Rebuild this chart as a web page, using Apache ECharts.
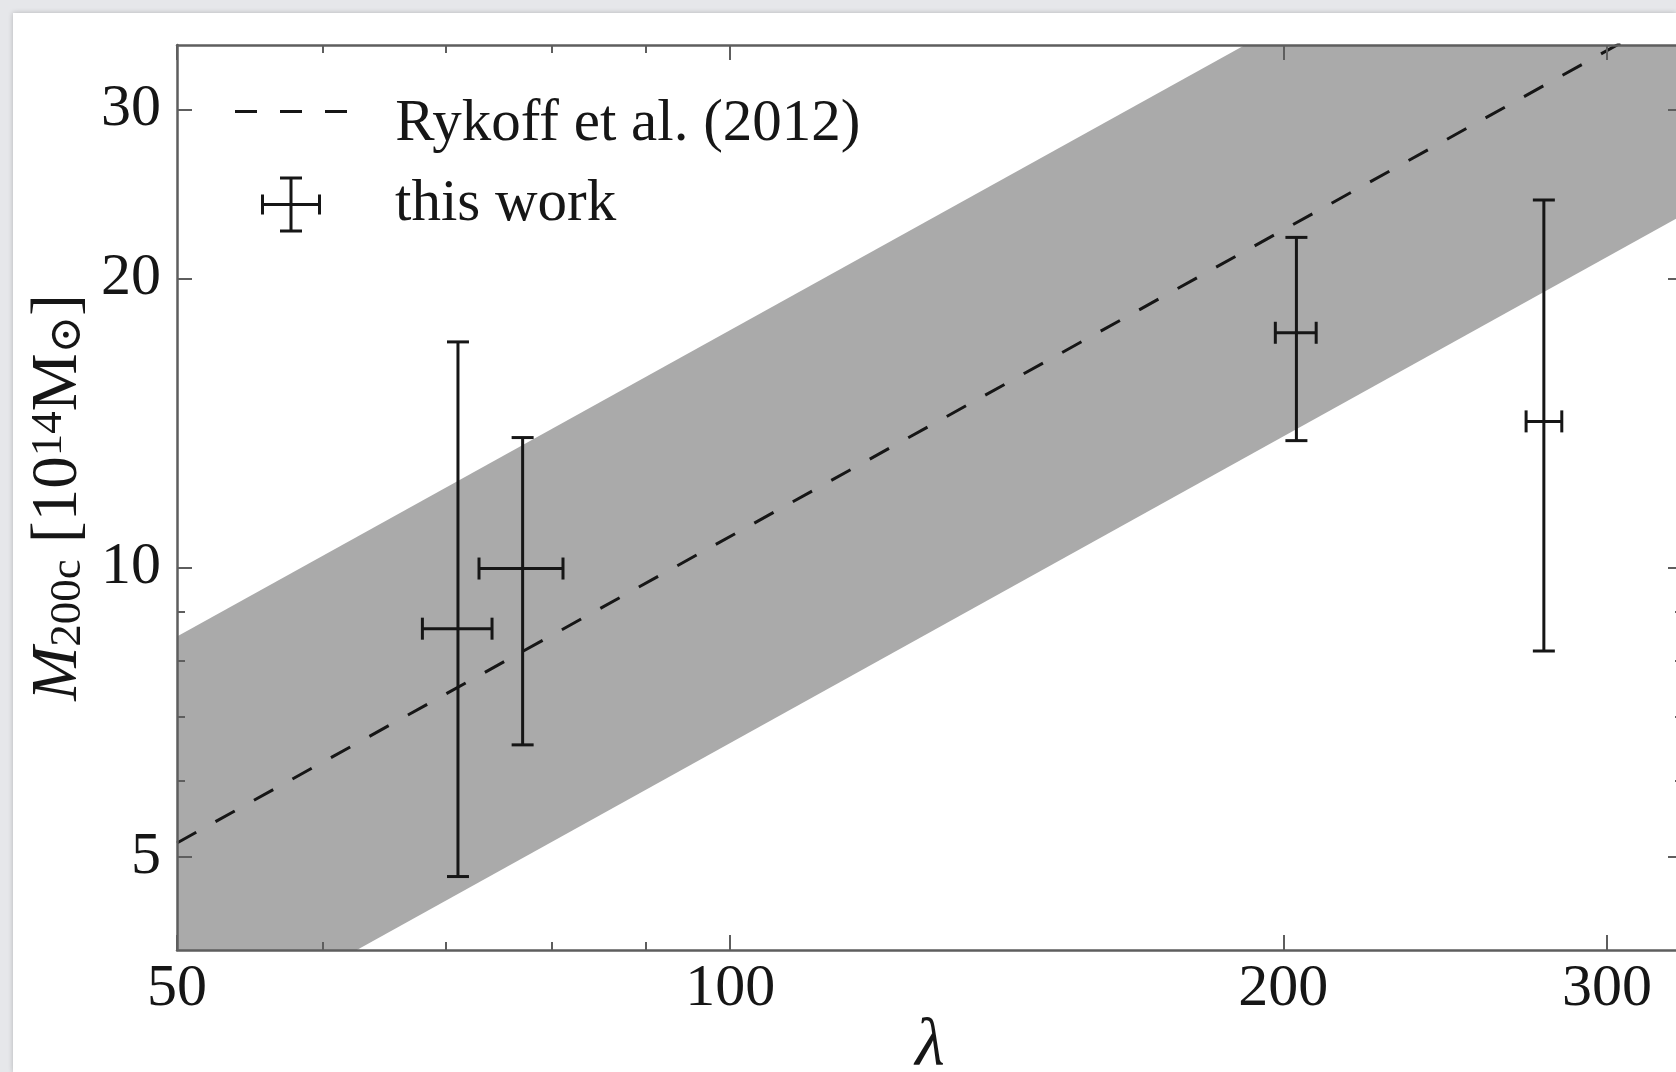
<!DOCTYPE html>
<html>
<head>
<meta charset="utf-8">
<script src="https://cdn.jsdelivr.net/npm/echarts@6/dist/echarts.min.js"></script>
<style>
  html, body { margin: 0; padding: 0; width: 1676px; height: 1072px; overflow: hidden; background: #e6e7ea; }
  #chart { position: absolute; left: 13px; top: 13px; width: 1663px; height: 1059px; background: #ffffff;
           box-shadow: 0 0 5px rgba(0,0,0,0.22); }
</style>
</head>
<body>
<div id="chart"></div>
<script>
// Richness λ vs. cluster mass M200c (10^14 solar masses)

// Stacked weak-lensing measurements ("this work")
const pointLambda = [71.1, 77.1, 203.3, 277.2];
const lambdaLow   = [68.0, 73.0, 198.0, 271.1];
const lambdaHigh  = [74.2, 81.1, 208.4, 283.5];
const pointMass   = [8.64, 9.98, 17.56, 14.20];
const massLow     = [4.77, 6.54, 13.56, 8.19];
const massHigh    = [17.18, 13.66, 22.07, 24.14];

// Rykoff et al. (2012) mass–richness relation and its scatter band
const rykoffLambda = [50, 330];
const rykoffMass   = [5.17, 38.2];
const bandLambda   = [50, 330];
const bandUpper    = [8.48, 62.6];
const bandLower    = [3.15, 23.3];

// Axis ticks
const xMajorTicks = [50, 100, 200, 300];
const xMinorTicks = [60, 70, 80, 90];
const yMajorTicks = [5, 10, 20, 30];
const yMinorTicks = [6, 7, 8, 9];

const SERIF = '"Liberation Serif", "DejaVu Serif", serif';
const AXIS_COLOR = '#5e5e5e';
const INK = '#161616';

const chart = echarts.init(document.getElementById('chart'));

function xAx(position, ticks, len, withLine, withLabels) {
  return {
    type: 'log', logBase: 10, min: 50, max: 330, position: position, z: 10,
    axisLine: { show: withLine, lineStyle: { color: AXIS_COLOR, width: 2.5 } },
    axisTick: { show: true, inside: true, length: len, customValues: ticks,
                lineStyle: { color: AXIS_COLOR, width: 2 } },
    axisLabel: { show: withLabels, customValues: ticks, margin: 9,
                 fontFamily: SERIF, fontSize: 60, color: INK },
    splitLine: { show: false }, minorTick: { show: false }, minorSplitLine: { show: false }
  };
}
function yAx(position, ticks, len, withLine, withLabels) {
  return {
    type: 'log', logBase: 10, min: 4, max: 35, position: position, z: 10,
    axisLine: { show: withLine, lineStyle: { color: AXIS_COLOR, width: 2.5 } },
    axisTick: { show: true, inside: true, length: len, customValues: ticks,
                lineStyle: { color: AXIS_COLOR, width: 2 } },
    axisLabel: { show: withLabels, customValues: ticks, margin: 16,
                 fontFamily: SERIF, fontSize: 60, color: INK },
    splitLine: { show: false }, minorTick: { show: false }, minorSplitLine: { show: false }
  };
}

const xBottom = xAx('bottom', xMajorTicks, 15, true, true);
xBottom.name = 'λ';
xBottom.nameLocation = 'middle';
xBottom.nameGap = 63;
xBottom.nameMoveOverlap = false;
xBottom.nameTextStyle = { fontFamily: SERIF, fontStyle: 'italic', fontSize: 68, color: INK };

const yLeft = yAx('left', yMajorTicks, 15, true, true);
yLeft.name = '{i|M}{sub|200c}{n| [10}{sup|14}{n|M}{sub|⊙}{n|]}';
yLeft.nameLocation = 'middle';
yLeft.nameRotate = 90;
yLeft.nameGap = 86;
yLeft.nameMoveOverlap = false;
yLeft.nameTextStyle = {
  color: INK,
  rich: {
    i:   { fontFamily: SERIF, fontStyle: 'italic', fontSize: 65, lineHeight: 64, color: INK },
    n:   { fontFamily: SERIF, fontSize: 65, lineHeight: 64, color: INK },
    sub: { fontFamily: SERIF, fontSize: 45, lineHeight: 26, verticalAlign: 'bottom', color: INK },
    sup: { fontFamily: SERIF, fontSize: 45, lineHeight: 26, verticalAlign: 'top', color: INK }
  }
};

const errorData = pointLambda.map((l, i) =>
  [l, pointMass[i], lambdaLow[i], lambdaHigh[i], massLow[i], massHigh[i]]);
const bandData = bandLambda.map((l, i) => [l, bandLower[i], bandUpper[i]]);
const rykoffData = rykoffLambda.map((l, i) => [l, rykoffMass[i]]);

const DASH_ICON = 'path://M0,0h22v3h-22z M45,0h22v3h-22z M90,0h22v3h-22z';
const ERR_ICON = 'path://M0,26.5h60v3h-60z M28.5,0h3v56h-3z M0,18h3v20h-3z M57,18h3v20h-3z M19,0h22v3h-22z M19,53h22v3h-22z';

const legendText = {
  t:   { fontFamily: SERIF, fontSize: 59, lineHeight: 59, color: INK, verticalAlign: 'bottom' },
  pad: { fontSize: 1, lineHeight: 85, color: 'transparent' }
};

chart.setOption({
  animation: false,
  backgroundColor: '#ffffff',
  grid: { left: 164, top: 32, width: 1506, height: 905, containLabel: false, outerBoundsMode: 'none' },
  xAxis: [
    xBottom,
    xAx('top', xMajorTicks, 15, true, false),
    xAx('bottom', xMinorTicks, 8, false, false),
    xAx('top', xMinorTicks, 8, false, false)
  ],
  yAxis: [
    yLeft,
    yAx('right', yMajorTicks, 15, true, false),
    yAx('left', yMinorTicks, 8, false, false),
    yAx('right', yMinorTicks, 8, false, false)
  ],
  legend: [
    {
      left: 217, top: 77, itemWidth: 112, itemHeight: 56,
      selectedMode: false, symbolKeepAspect: true,
      formatter: function (name) { return '{pad| }{t|' + name + '}'; },
      textStyle: { padding: [0, 0, 0, 43], rich: legendText },
      data: [{ name: 'Rykoff et al. (2012)', icon: DASH_ICON }]
    },
    {
      left: 243, top: 157, itemWidth: 112, itemHeight: 56,
      selectedMode: false, symbolKeepAspect: true,
      textStyle: { fontFamily: SERIF, fontSize: 59, color: INK, padding: [0, 0, 0, 43] },
      data: [{ name: 'this work', icon: ERR_ICON }]
    }
  ],
  series: [
    {
      name: 'band', type: 'custom', clip: true, z: 1, silent: true,
      data: bandData,
      encode: { x: 0, y: [1, 2] },
      renderItem: function (params, api) {
        if (params.dataIndex !== 0) return null;
        const pts = [];
        for (let i = 0; i < bandLambda.length; i++) pts.push(api.coord([bandLambda[i], bandUpper[i]]));
        for (let i = bandLambda.length - 1; i >= 0; i--) pts.push(api.coord([bandLambda[i], bandLower[i]]));
        return { type: 'polygon', shape: { points: pts }, style: { fill: '#aaaaaa' } };
      }
    },
    {
      name: 'Rykoff et al. (2012)', type: 'line', z: 2, symbol: 'none', clip: true,
      data: rykoffData,
      itemStyle: { color: INK },
      lineStyle: { color: INK, width: 3, type: [22, 22] }
    },
    {
      name: 'this work', type: 'custom', z: 3, clip: true,
      itemStyle: { color: INK },
      data: errorData,
      encode: { x: [0, 2, 3], y: [1, 4, 5] },
      renderItem: function (params, api) {
        const c = api.coord([api.value(0), api.value(1)]);
        const xl = api.coord([api.value(2), api.value(1)])[0];
        const xh = api.coord([api.value(3), api.value(1)])[0];
        const yl = api.coord([api.value(0), api.value(4)])[1];
        const yh = api.coord([api.value(0), api.value(5)])[1];
        const cap = 11;
        const st = { stroke: INK, lineWidth: 3 };
        const seg = (x1, y1, x2, y2) => ({ type: 'line', shape: { x1, y1, x2, y2 }, style: st });
        return {
          type: 'group',
          children: [
            seg(c[0], yl, c[0], yh),
            seg(xl, c[1], xh, c[1]),
            seg(c[0] - cap, yl, c[0] + cap, yl),
            seg(c[0] - cap, yh, c[0] + cap, yh),
            seg(xl, c[1] - cap, xl, c[1] + cap),
            seg(xh, c[1] - cap, xh, c[1] + cap)
          ]
        };
      }
    }
  ]
});
</script>
</body>
</html>
